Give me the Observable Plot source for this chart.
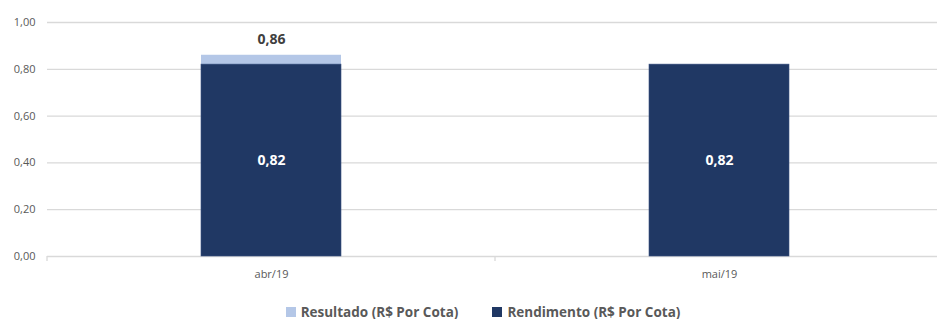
<!DOCTYPE html>
<html>
<head>
<meta charset="utf-8">
<script src="https://cdn.jsdelivr.net/npm/d3@7"></script>
<script src="https://cdn.jsdelivr.net/npm/@observablehq/plot@0.6"></script>
<style>
  html, body { margin: 0; padding: 0; background: #fff; overflow: hidden; }
  #chart { width: 937px; }
  .legend { display: flex; justify-content: center; gap: 34px; font-family: "Open Sans", sans-serif; font-weight: 700; font-size: 13.5px; color: #595959; height: 29px; align-items: center; margin-left: 29px; padding-top: 19px; }
  .legend span.sw { display: inline-block; width: 10px; height: 10px; margin-right: 5px; }
</style>
</head>
<body>
<div id="chart"></div>
<script>
const categories = ["abr/19", "mai/19"];
const resultado = [0.86, null];
const rendimento = [0.82, 0.82];
const yTicks = [0, 0.2, 0.4, 0.6, 0.8, 1.0];
const seriesNames = ["Resultado (R$ Por Cota)", "Rendimento (R$ Por Cota)"];
const colors = ["#b4c7e7", "#203864"];

const fmt = v => v.toFixed(2).replace(".", ",");
const data = categories.map((c, i) => ({cat: c, resultado: resultado[i], rendimento: rendimento[i]}));

const plot = Plot.plot({
  width: 937,
  height: 278,
  marginLeft: 47,
  marginRight: 0,
  marginTop: 22,
  marginBottom: 22,
  style: {fontFamily: "Open Sans, sans-serif", fontSize: "11px", color: "#595959", background: "#fff", overflow: "visible"},
  x: {domain: categories, range: [47, 943], paddingInner: 0.6875, paddingOuter: 0.34375, label: null, tickSize: 0, tickPadding: 14},
  y: {domain: [0, 1], ticks: yTicks, tickFormat: fmt, label: null, tickSize: 0, tickPadding: 12},
  marks: [
    Plot.ruleY(yTicks, {stroke: "#d9d9d9", strokeWidth: 1.3}),
    Plot.barY(data.filter(d => d.resultado != null), {x: "cat", y: "resultado", fill: colors[0]}),
    Plot.barY(data, {x: "cat", y: "rendimento", fill: colors[1], stroke: "#3a5280", strokeWidth: 0.6}),
    Plot.text(data.filter(d => d.resultado != null), {x: "cat", y: "resultado", text: d => fmt(d.resultado), dy: -16, fill: "#404040", fontWeight: 700, fontSize: 14}),
    Plot.text(data, {x: "cat", y: d => d.rendimento / 2, text: d => fmt(d.rendimento), fill: "#ffffff", fontWeight: 700, fontSize: 14})
  ]
});

// category boundary tick marks, derived from the band scale
const xs = plot.scale("x");
const ys = plot.scale("y");
const y0 = ys.apply(0);
const half = (xs.step - xs.bandwidth) / 2;
const bounds = categories.map(c => xs.apply(c) - half).concat([xs.apply(categories[categories.length - 1]) + xs.bandwidth + half]);
const svg = d3.select(plot);
svg.append("g").selectAll("line").data(bounds).join("line")
  .attr("x1", d => d).attr("x2", d => d)
  .attr("y1", y0).attr("y2", y0 + 5)
  .attr("stroke", "#d9d9d9").attr("stroke-width", 1.3);

document.getElementById("chart").append(plot);

const legend = document.createElement("div");
legend.className = "legend";
seriesNames.forEach((n, i) => {
  const item = document.createElement("div");
  const sw = document.createElement("span");
  sw.className = "sw";
  sw.style.background = colors[i];
  item.append(sw, document.createTextNode(n));
  legend.append(item);
});
document.getElementById("chart").append(legend);
</script>
</body>
</html>
